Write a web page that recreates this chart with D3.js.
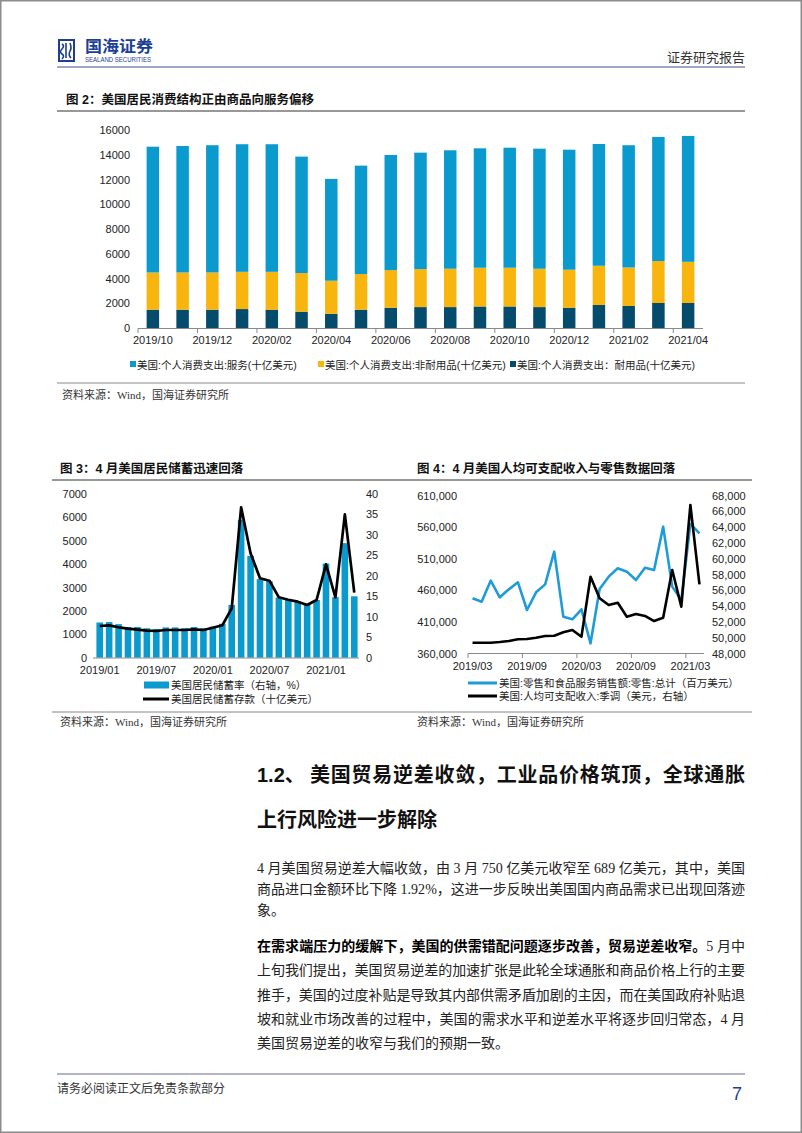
<!DOCTYPE html>
<html><head><meta charset="utf-8">
<script src="https://cdn.jsdelivr.net/npm/d3@7"></script>
<style>
body{margin:0;background:#fff;}
svg{display:block;}
text{font-family:"Liberation Sans","Noto Sans CJK SC",sans-serif;}
</style></head><body>
<svg id="page" width="802" height="1133"></svg>
<script>
// ---------- Data: Figure 2 ----------
const months2 = ["2019/10","2019/11","2019/12","2020/01","2020/02","2020/03","2020/04","2020/05","2020/06","2020/07","2020/08","2020/09","2020/10","2020/11","2020/12","2021/01","2021/02","2021/03","2021/04"];
const services2 = [10160,10220,10280,10310,10310,9410,8230,8760,9300,9410,9570,9650,9700,9700,9700,9840,9880,10030,10170];
const nondurable2 = [3010,3010,3010,3010,3060,3120,2670,2880,3040,3070,3100,3130,3130,3100,3070,3170,3110,3390,3330];
const durable2 = [1480,1480,1480,1530,1480,1320,1150,1480,1640,1690,1690,1740,1740,1690,1640,1860,1780,2020,2020];
const yTicks2 = [0,2000,4000,6000,8000,10000,12000,14000,16000];
const xLabels2 = ["2019/10","2019/12","2020/02","2020/04","2020/06","2020/08","2020/10","2020/12","2021/02","2021/04"];
const legend2 = ["美国:个人消费支出:服务(十亿美元)","美国:个人消费支出:非耐用品(十亿美元)","美国:个人消费支出：耐用品(十亿美元)"];

// ---------- Data: Figure 3 ----------
const months3 = ["2019/01","2019/02","2019/03","2019/04","2019/05","2019/06","2019/07","2019/08","2019/09","2019/10","2019/11","2019/12","2020/01","2020/02","2020/03","2020/04","2020/05","2020/06","2020/07","2020/08","2020/09","2020/10","2020/11","2020/12","2021/01","2021/02","2021/03","2021/04"];
const savingRate3 = [8.6,8.7,8.2,7.5,7.5,7.2,7.0,7.4,7.4,7.2,7.5,7.2,7.6,8.3,12.9,33.7,24.9,19.2,18.7,14.7,14.3,13.7,13.1,14.1,23.0,14.8,28.0,15.0];
const savingDeposit3 = [1356,1385,1300,1240,1197,1155,1142,1185,1185,1185,1214,1185,1283,1385,2112,6431,4464,3395,3293,2583,2480,2395,2253,2467,3994,2583,6132,2779];
const yLeftTicks3 = [0,1000,2000,3000,4000,5000,6000,7000];
const yRightTicks3 = [0,5,10,15,20,25,30,35,40];
const xLabels3 = ["2019/01","2019/07","2020/01","2020/07","2021/01"];

// ---------- Data: Figure 4 ----------
const months4 = ["2019/03","2019/04","2019/05","2019/06","2019/07","2019/08","2019/09","2019/10","2019/11","2019/12","2020/01","2020/02","2020/03","2020/04","2020/05","2020/06","2020/07","2020/08","2020/09","2020/10","2020/11","2020/12","2021/01","2021/02","2021/03","2021/04"];
const retail4 = [447300,442000,475200,448900,461500,472600,428800,456800,469400,521100,418300,414100,429900,376100,462100,481600,494800,489500,476300,495800,492100,560700,465800,444700,565000,550100];
const income4 = [49370,49370,49370,49450,49580,49800,49840,50000,50220,50250,50680,50980,50130,57720,54990,54140,54430,52660,53000,52750,52110,52530,58570,53930,66800,56760];
const yLeftTicks4 = [360000,410000,460000,510000,560000,610000];
const yRightTicks4 = [48000,50000,52000,54000,56000,58000,60000,62000,64000,66000,68000];
const xLabels4 = ["2019/03","2019/09","2020/03","2020/09","2021/03"];

const C_SERV = "#0b9acd", C_NOND = "#f8b50e", C_DUR = "#054b6b";
const C_BLUE4 = "#1f9bd8";
const CJK = '"Liberation Sans","Noto Sans CJK SC",sans-serif';
const SERIF = '"Liberation Serif","Noto Sans CJK SC",serif';

const svg = d3.select("#page");
svg.append("rect").attr("width",802).attr("height",1133).attr("fill","#fff");
svg.append("rect").attr("x",0.75).attr("y",0.75).attr("width",800.5).attr("height",1131.5)
  .attr("fill","none").attr("stroke","#8c8c8c").attr("stroke-width",1.5);

// ---------- Header ----------
const logo = svg.append("g").attr("fill","none").attr("stroke","#1c3f94").attr("stroke-width",2);
logo.append("path").attr("d","M58,40 h17 M58,61 h17 M59,40 v21 M74,40 v21");
logo.append("path").attr("d","M62,44 q3,2 0,5 q-3,3 0,5 q3,2 0,5").attr("stroke-width",1.6);
logo.append("path").attr("d","M66,43 v15 M70,43 q2,5 0,8 q-2,4 1,7").attr("stroke-width",1.6);
svg.append("text").attr("x",85).attr("y",46).attr("dominant-baseline","central")
  .attr("font-size",16).attr("font-weight","bold").attr("fill","#1c3f94")
  .attr("textLength",68).attr("lengthAdjust","spacingAndGlyphs").style("font-family",CJK).text("国海证券");
svg.append("text").attr("x",85).attr("y",59).attr("dominant-baseline","central")
  .attr("font-size",7).attr("fill","#1c3f94").attr("textLength",66).attr("lengthAdjust","spacingAndGlyphs")
  .text("SEALAND SECURITIES");
svg.append("text").attr("x",745).attr("y",57).attr("text-anchor","end").attr("dominant-baseline","central")
  .attr("font-size",13).attr("fill","#333").style("font-family",SERIF).text("证券研究报告");
svg.append("line").attr("x1",57).attr("x2",745).attr("y1",67).attr("y2",67).attr("stroke","#a3a3c4").attr("stroke-width",2);

function title(x, y, txt, x1, x2){
  svg.append("text").attr("x",x).attr("y",y).attr("dominant-baseline","central")
    .attr("font-size",12.5).attr("font-weight","bold").attr("fill","#111").style("font-family",CJK).text(txt);
  svg.append("line").attr("x1",x1).attr("x2",x2).attr("y1",y+11).attr("y2",y+11).attr("stroke","#333").attr("stroke-width",1.2);
}
function source(x, y){
  svg.append("text").attr("x",x).attr("y",y).attr("dominant-baseline","central")
    .attr("font-size",11).attr("fill","#333").style("font-family",SERIF).text("资料来源：Wind，国海证券研究所");
}

// ---------- Figure 2 ----------
title(66, 100, "图 2：美国居民消费结构正由商品向服务偏移", 57, 745);
const rows2 = months2.map((m,i)=>({m, durable:durable2[i], nondurable:nondurable2[i], services:services2[i]}));
const x2 = d3.scaleBand().domain(months2).range([138,703]).paddingInner(0.58).paddingOuter(0.29);
const y2 = d3.scaleLinear().domain([0,16000]).range([328,130]);
const stack2 = d3.stack().keys(["durable","nondurable","services"])(rows2);
const col2 = {durable:C_DUR, nondurable:C_NOND, services:C_SERV};
const g2 = svg.append("g");
stack2.forEach(layer=>{
  g2.append("g").attr("fill",col2[layer.key]).selectAll("rect").data(layer).join("rect")
    .attr("x",d=>x2(d.data.m)).attr("width",x2.bandwidth())
    .attr("y",d=>y2(d[1])).attr("height",d=>y2(d[0])-y2(d[1]));
});
const ax2 = g2.append("g").attr("transform","translate(138,0)")
  .call(d3.axisLeft(y2).tickValues(yTicks2).tickSize(0).tickPadding(8).tickFormat(d3.format("d")));
ax2.select(".domain").remove();
ax2.selectAll("text").attr("font-size",11).attr("fill","#222").style("font-family",CJK);
g2.append("line").attr("x1",138).attr("x2",703).attr("y1",328.5).attr("y2",328.5).attr("stroke","#8a8a8a");
months2.forEach((m,i)=>{ if(i%2===0){
  const bx = x2(m) - x2.step()*x2.paddingInner()/2;
  g2.append("line").attr("x1",bx).attr("x2",bx).attr("y1",328.5).attr("y2",333).attr("stroke","#8a8a8a");
}});
const bx2 = g2.append("g").attr("transform","translate(0,328)")
  .call(d3.axisBottom(x2).tickValues(xLabels2).tickSize(0).tickPadding(8));
bx2.select(".domain").remove();
bx2.selectAll("text").attr("font-size",11).attr("fill","#222").style("font-family",CJK);
const lx2 = [130,318,510], lc2 = [C_SERV,C_NOND,C_DUR];
legend2.forEach((t,i)=>{
  svg.append("rect").attr("x",lx2[i]).attr("y",361).attr("width",6).attr("height",6).attr("fill",lc2[i]);
  svg.append("text").attr("x",lx2[i]+7).attr("y",364.5).attr("dominant-baseline","central")
    .attr("font-size",10.5).attr("fill","#222").style("font-family",CJK).text(t);
});
svg.append("line").attr("x1",57).attr("x2",745).attr("y1",383).attr("y2",383).attr("stroke","#888");
source(62, 395);

// ---------- Figure 3 ----------
title(60, 469, "图 3：4 月美国居民储蓄迅速回落", 52, 400);
const x3 = d3.scaleBand().domain(months3).range([95,359]).paddingInner(0.3).paddingOuter(0.15);
const yL3 = d3.scaleLinear().domain([0,7000]).range([657.7,494]);
const yR3 = d3.scaleLinear().domain([0,40]).range([657.7,494]);
const g3 = svg.append("g");
g3.append("g").attr("fill",C_SERV).selectAll("rect").data(months3).join("rect")
  .attr("x",d=>x3(d)).attr("width",x3.bandwidth())
  .attr("y",(d,i)=>yR3(savingRate3[i])).attr("height",(d,i)=>yR3(0)-yR3(savingRate3[i]));
g3.append("path").datum(savingDeposit3)
  .attr("d",d3.line().x((d,i)=>x3(months3[i])+x3.bandwidth()/2).y(d=>yL3(d)))
  .attr("fill","none").attr("stroke","#000").attr("stroke-width",2.7).attr("stroke-linejoin","round");
g3.append("line").attr("x1",93).attr("x2",359).attr("y1",658).attr("y2",658).attr("stroke","#8a8a8a");
const al3 = g3.append("g").attr("transform","translate(93,0)")
  .call(d3.axisLeft(yL3).tickValues(yLeftTicks3).tickSize(0).tickPadding(6).tickFormat(d3.format("d")));
const ar3 = g3.append("g").attr("transform","translate(360,0)")
  .call(d3.axisRight(yR3).tickValues(yRightTicks3).tickSize(0).tickPadding(6));
const ab3 = g3.append("g").attr("transform","translate(0,658)")
  .call(d3.axisBottom(x3).tickValues(xLabels3).tickSize(0).tickPadding(8));
[al3,ar3,ab3].forEach(a=>{ a.select(".domain").remove();
  a.selectAll("text").attr("font-size",11).attr("fill","#222").style("font-family",CJK); });
svg.append("rect").attr("x",144).attr("y",681.5).attr("width",25).attr("height",7).attr("fill",C_SERV);
svg.append("text").attr("x",171).attr("y",685).attr("dominant-baseline","central").attr("font-size",10.5)
  .attr("fill","#222").style("font-family",CJK).text("美国居民储蓄率（右轴，%）");
svg.append("line").attr("x1",143).attr("x2",169).attr("y1",699).attr("y2",699).attr("stroke","#000").attr("stroke-width",3);
svg.append("text").attr("x",171).attr("y",699).attr("dominant-baseline","central").attr("font-size",10.5)
  .attr("fill","#222").style("font-family",CJK).text("美国居民储蓄存款（十亿美元）");

// ---------- Figure 4 ----------
title(417, 469, "图 4：4 月美国人均可支配收入与零售数据回落", 400, 752);
const x4 = d3.scaleBand().domain(months4).range([468,704]);
const yL4 = d3.scaleLinear().domain([360000,610000]).range([653.5,495.5]);
const yR4 = d3.scaleLinear().domain([48000,68000]).range([653.5,495.5]);
const cx4 = m => x4(m)+x4.bandwidth()/2;
const g4 = svg.append("g");
g4.append("line").attr("x1",468).attr("x2",704).attr("y1",653.5).attr("y2",653.5).attr("stroke","#8a8a8a");
months4.forEach((m,i)=>{ if(i%6===0){
  g4.append("line").attr("x1",x4(m)).attr("x2",x4(m)).attr("y1",653.5).attr("y2",658).attr("stroke","#8a8a8a");
}});
g4.append("path").datum(retail4)
  .attr("d",d3.line().x((d,i)=>cx4(months4[i])).y(d=>yL4(d)))
  .attr("fill","none").attr("stroke",C_BLUE4).attr("stroke-width",2.6).attr("stroke-linejoin","round");
g4.append("path").datum(income4)
  .attr("d",d3.line().x((d,i)=>cx4(months4[i])).y(d=>yR4(d)))
  .attr("fill","none").attr("stroke","#000").attr("stroke-width",2.6).attr("stroke-linejoin","round");
const al4 = g4.append("g").attr("transform","translate(466,0)")
  .call(d3.axisLeft(yL4).tickValues(yLeftTicks4).tickSize(0).tickPadding(9).tickFormat(d3.format(",")));
const ar4 = g4.append("g").attr("transform","translate(706,0)")
  .call(d3.axisRight(yR4).tickValues(yRightTicks4).tickSize(0).tickPadding(6).tickFormat(d3.format(",")));
const ab4 = g4.append("g").attr("transform","translate(0,654)")
  .call(d3.axisBottom(x4).tickValues(xLabels4).tickSize(0).tickPadding(8));
[al4,ar4,ab4].forEach(a=>{ a.select(".domain").remove();
  a.selectAll("text").attr("font-size",11).attr("fill","#222").style("font-family",CJK); });
svg.append("line").attr("x1",468).attr("x2",497).attr("y1",683).attr("y2",683).attr("stroke",C_BLUE4).attr("stroke-width",3);
svg.append("text").attr("x",499).attr("y",683).attr("dominant-baseline","central").attr("font-size",10.5)
  .attr("fill","#222").style("font-family",CJK).text("美国:零售和食品服务销售额:零售:总计（百万美元）");
svg.append("line").attr("x1",468).attr("x2",497).attr("y1",696).attr("y2",696).attr("stroke","#000").attr("stroke-width",3);
svg.append("text").attr("x",499).attr("y",696).attr("dominant-baseline","central").attr("font-size",10.5)
  .attr("fill","#222").style("font-family",CJK).text("美国:人均可支配收入:季调（美元，右轴）");

svg.append("line").attr("x1",52).attr("x2",752).attr("y1",712).attr("y2",712).attr("stroke","#888");
source(60, 722);
source(417, 722);

// ---------- Text section ----------
svg.append("text").attr("x",257).attr("y",775).attr("dominant-baseline","central")
  .attr("font-size",20).attr("font-weight","bold").attr("fill","#111").style("font-family",CJK).text("1.2、");
svg.append("text").attr("x",310).attr("y",775).attr("dominant-baseline","central")
  .attr("font-size",20).attr("font-weight","bold").attr("fill","#111").style("font-family",CJK)
  .attr("textLength",435).attr("lengthAdjust","spacing").text("美国贸易逆差收敛，工业品价格筑顶，全球通胀");
svg.append("text").attr("x",257).attr("y",820).attr("dominant-baseline","central")
  .attr("font-size",20).attr("font-weight","bold").attr("fill","#111").style("font-family",CJK).text("上行风险进一步解除");

const para1 = ["4 月美国贸易逆差大幅收敛，由 3 月 750 亿美元收窄至 689 亿美元，其中，美国",
  "商品进口金额环比下降 1.92%，这进一步反映出美国国内商品需求已出现回落迹",
  "象。"];
const para1Y = [868,889,910];
para1.forEach((t,i)=>{
  const tx = svg.append("text").attr("x",257).attr("y",para1Y[i]).attr("dominant-baseline","central")
    .attr("font-size",14).attr("fill","#222").style("font-family",SERIF).text(t);
  if(i<para1.length-1) tx.attr("textLength",488).attr("lengthAdjust","spacing");
});
const p2first = svg.append("text").attr("x",257).attr("y",946).attr("dominant-baseline","central")
  .attr("font-size",14).attr("fill","#222").style("font-family",SERIF)
  .attr("textLength",488).attr("lengthAdjust","spacing");
p2first.append("tspan").attr("font-weight","bold").attr("fill","#000").text("在需求端压力的缓解下，美国的供需错配问题逐步改善，贸易逆差收窄。");
p2first.append("tspan").text("5 月中");
const para2 = ["上旬我们提出，美国贸易逆差的加速扩张是此轮全球通胀和商品价格上行的主要",
  "推手，美国的过度补贴是导致其内部供需矛盾加剧的主因，而在美国政府补贴退",
  "坡和就业市场改善的过程中，美国的需求水平和逆差水平将逐步回归常态，4 月",
  "美国贸易逆差的收窄与我们的预期一致。"];
const para2Y = [970,995,1019,1043];
para2.forEach((t,i)=>{
  const tx = svg.append("text").attr("x",257).attr("y",para2Y[i]).attr("dominant-baseline","central")
    .attr("font-size",14).attr("fill","#222").style("font-family",SERIF).text(t);
  if(i<para2.length-1) tx.attr("textLength",488).attr("lengthAdjust","spacing");
});

// ---------- Footer ----------
svg.append("line").attr("x1",57).attr("x2",745).attr("y1",1074).attr("y2",1074).attr("stroke","#9a9ab8").attr("stroke-width",1.5);
svg.append("text").attr("x",57).attr("y",1089).attr("dominant-baseline","central")
  .attr("font-size",12).attr("fill","#333").style("font-family",SERIF).text("请务必阅读正文后免责条款部分");
svg.append("text").attr("x",742).attr("y",1094).attr("text-anchor","end").attr("dominant-baseline","central")
  .attr("font-size",18).attr("fill","#1c3f94").text("7");
</script></body></html>
